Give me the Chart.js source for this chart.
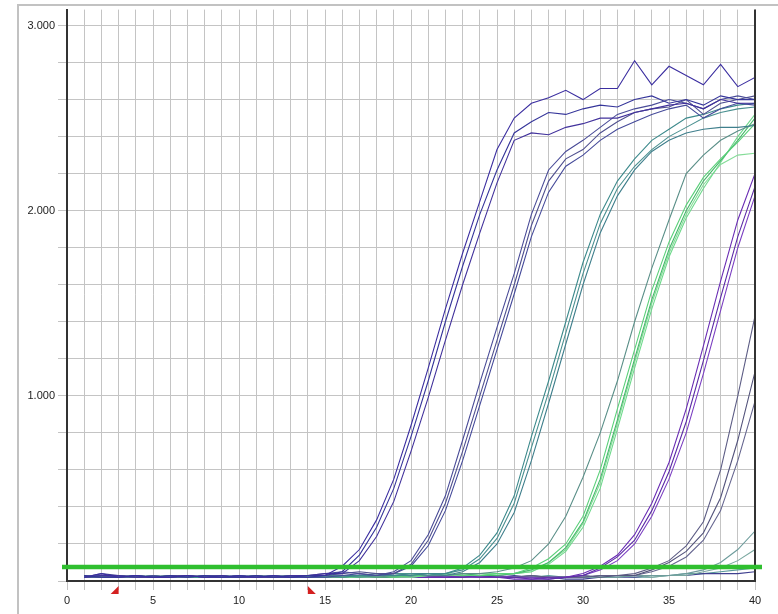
<!DOCTYPE html>
<html>
<head>
<meta charset="utf-8">
<script src="https://cdn.jsdelivr.net/npm/chart.js@4.4.1/dist/chart.umd.min.js"></script>
<style>
  html, body { margin: 0; padding: 0; background: #fff; }
  #wrap { width: 778px; height: 614px; }
</style>
</head>
<body>
<div id="wrap"><canvas id="amp-chart" width="778" height="614"></canvas></div>
<script>
// cycles 1..40
const cycles = [1,2,3,4,5,6,7,8,9,10,11,12,13,14,15,16,17,18,19,20,21,22,23,24,25,26,27,28,29,30,31,32,33,34,35,36,37,38,39,40];

// fluorescence, one array per well
const a1 = [0.02,0.04,0.02,0.03,0.02,0.02,0.03,0.02,0.02,0.03,0.02,0.03,0.02,0.02,0.03, 0.08,0.17,0.33,0.55,0.84, 1.15,1.47,1.77,2.05,2.33, 2.50,2.58,2.61,2.65,2.60, 2.66,2.66,2.81,2.68,2.78, 2.73,2.68,2.79,2.67,2.72];
const a2 = [0.03,0.02,0.02,0.03,0.02,0.03,0.02,0.03,0.02,0.02,0.03,0.02,0.02,0.03,0.03, 0.05,0.14,0.29,0.50,0.78, 1.08,1.40,1.70,1.98,2.22, 2.42,2.48,2.53,2.52,2.55, 2.57,2.56,2.60,2.62,2.58, 2.60,2.57,2.62,2.60,2.60];
const a3 = [0.02,0.03,0.03,0.02,0.02,0.02,0.03,0.02,0.03,0.02,0.02,0.02,0.03,0.03,0.04, 0.04,0.11,0.24,0.43,0.70, 0.99,1.30,1.60,1.88,2.15, 2.38,2.42,2.41,2.45,2.47, 2.50,2.50,2.53,2.55,2.57, 2.58,2.55,2.60,2.58,2.58];

const b1 = [0.02,0.03,0.02,0.02,0.03,0.02,0.02,0.03,0.03,0.02,0.02,0.03,0.02,0.03,0.04,0.05,0.04,0.03, 0.05,0.11, 0.25,0.46,0.76,1.07,1.37, 1.66,1.98,2.22,2.32,2.38, 2.45,2.52,2.55,2.57,2.60, 2.58,2.55,2.60,2.62,2.60];
const b2 = [0.03,0.02,0.02,0.03,0.02,0.03,0.03,0.02,0.02,0.02,0.03,0.02,0.02,0.03,0.03,0.04,0.05,0.04, 0.04,0.09, 0.22,0.42,0.70,1.00,1.30, 1.60,1.92,2.16,2.28,2.33, 2.42,2.48,2.53,2.55,2.56, 2.60,2.52,2.58,2.60,2.62];
const b3 = [0.02,0.02,0.03,0.02,0.02,0.02,0.03,0.02,0.02,0.03,0.02,0.02,0.03,0.02,0.02,0.03,0.04,0.03, 0.04,0.08, 0.19,0.38,0.65,0.95,1.25, 1.55,1.86,2.10,2.24,2.30, 2.38,2.44,2.48,2.52,2.55, 2.57,2.50,2.55,2.58,2.57];

const c1 = [0.02,0.03,0.02,0.02,0.02,0.03,0.02,0.02,0.03,0.02,0.02,0.02,0.03,0.02,0.03,0.02,0.03,0.04,0.03,0.03,0.04, 0.04,0.07,0.14,0.26, 0.46,0.78,1.08,1.40,1.72, 1.98,2.16,2.28,2.38,2.44, 2.50,2.52,2.55,2.57,2.58];
const c2 = [0.03,0.02,0.02,0.03,0.02,0.02,0.02,0.03,0.02,0.02,0.03,0.02,0.02,0.02,0.03,0.03,0.02,0.03,0.04,0.04,0.03, 0.04,0.06,0.12,0.23, 0.42,0.72,1.02,1.34,1.66, 1.93,2.12,2.24,2.33,2.40, 2.45,2.50,2.53,2.55,2.56];
const c3 = [0.02,0.02,0.03,0.02,0.03,0.02,0.02,0.02,0.02,0.03,0.02,0.03,0.02,0.02,0.02,0.03,0.03,0.03,0.03,0.04,0.04, 0.03,0.05,0.10,0.20, 0.37,0.65,0.96,1.28,1.60, 1.88,2.08,2.22,2.32,2.38, 2.42,2.44,2.45,2.45,2.46];

const d0 = [0.02,0.02,0.03,0.02,0.02,0.03,0.02,0.02,0.02,0.03,0.02,0.02,0.03,0.02,0.02,0.02,0.03,0.02,0.03,0.04,0.03,0.03,0.04, 0.04,0.05, 0.07,0.11,0.20,0.35,0.56, 0.80,1.08,1.40,1.69,1.95, 2.20,2.30,2.38,2.43,2.47];
const d1 = [0.02,0.03,0.02,0.02,0.02,0.02,0.03,0.02,0.02,0.02,0.03,0.02,0.02,0.02,0.03,0.02,0.02,0.03,0.02,0.03,0.03,0.04,0.03,0.03,0.04, 0.04,0.07,0.12,0.20,0.35, 0.60,0.93,1.25,1.57,1.83, 2.03,2.18,2.28,2.37,2.47];
const d2 = [0.02,0.02,0.02,0.03,0.02,0.02,0.02,0.02,0.03,0.02,0.02,0.02,0.02,0.03,0.02,0.02,0.03,0.02,0.02,0.03,0.03,0.03,0.04,0.03,0.03, 0.04,0.06,0.10,0.18,0.32, 0.55,0.87,1.20,1.52,1.79, 2.00,2.16,2.27,2.38,2.50];
const d3 = [0.03,0.02,0.02,0.02,0.02,0.03,0.02,0.02,0.02,0.02,0.02,0.03,0.02,0.02,0.02,0.03,0.02,0.02,0.03,0.02,0.03,0.04,0.03,0.03,0.04, 0.04,0.05,0.09,0.16,0.29, 0.50,0.82,1.15,1.47,1.75, 1.96,2.12,2.26,2.40,2.52];
const d4 = [0.02,0.02,0.02,0.02,0.03,0.02,0.02,0.03,0.02,0.02,0.02,0.02,0.03,0.02,0.02,0.02,0.02,0.03,0.02,0.02,0.03,0.03,0.03,0.04,0.04, 0.04,0.05,0.10,0.17,0.31, 0.53,0.85,1.18,1.50,1.77, 1.98,2.14,2.25,2.30,2.31];

const e1 = [0.02,0.02,0.03,0.02,0.02,0.02,0.02,0.03,0.02,0.02,0.02,0.02,0.02,0.03,0.02,0.02,0.02,0.02,0.03,0.02,0.02,0.02,0.03,0.02,0.02,0.01,0.01,0.02,0.02, 0.04, 0.08,0.14,0.25,0.42,0.64, 0.93,1.27,1.62,1.95,2.20];
const e2 = [0.02,0.03,0.02,0.02,0.02,0.02,0.03,0.02,0.02,0.02,0.02,0.03,0.02,0.02,0.02,0.02,0.02,0.03,0.02,0.02,0.02,0.02,0.02,0.03,0.02,0.02,0.01,0.01,0.02, 0.03, 0.07,0.13,0.22,0.38,0.59, 0.86,1.19,1.53,1.86,2.13];
const e3 = [0.02,0.02,0.02,0.03,0.02,0.02,0.02,0.02,0.02,0.03,0.02,0.02,0.02,0.02,0.03,0.02,0.02,0.02,0.02,0.03,0.02,0.02,0.02,0.02,0.03,0.02,0.02,0.01,0.02, 0.03, 0.06,0.11,0.20,0.35,0.55, 0.80,1.12,1.46,1.80,2.08];

const f1 = [0.02,0.02,0.02,0.02,0.03,0.02,0.02,0.02,0.02,0.02,0.03,0.02,0.02,0.02,0.02,0.03,0.02,0.02,0.02,0.02,0.02,0.03,0.02,0.02,0.02,0.02,0.03,0.02,0.02,0.02,0.03,0.03, 0.04,0.07,0.11, 0.19,0.32,0.60,1.00,1.43];
const f2 = [0.02,0.03,0.02,0.02,0.02,0.02,0.02,0.03,0.02,0.02,0.02,0.02,0.03,0.02,0.02,0.02,0.02,0.02,0.03,0.02,0.02,0.02,0.02,0.02,0.03,0.02,0.02,0.02,0.02,0.03,0.02,0.03, 0.03,0.06,0.10, 0.16,0.26,0.45,0.76,1.13];
const f3 = [0.02,0.02,0.03,0.02,0.02,0.02,0.02,0.02,0.02,0.03,0.02,0.02,0.02,0.02,0.02,0.03,0.02,0.02,0.02,0.02,0.03,0.02,0.02,0.02,0.02,0.02,0.03,0.02,0.02,0.02,0.03,0.03, 0.03,0.05,0.08, 0.13,0.22,0.38,0.65,0.97];

const g1 = [0.02,0.02,0.02,0.03,0.02,0.02,0.02,0.02,0.02,0.02,0.03,0.02,0.02,0.02,0.02,0.02,0.03,0.02,0.02,0.02,0.02,0.02,0.02,0.03,0.02,0.02,0.02,0.02,0.02,0.03,0.02,0.02,0.03,0.03,0.03, 0.04,0.06,0.10,0.17,0.27];
const g2 = [0.02,0.02,0.02,0.02,0.02,0.03,0.02,0.02,0.02,0.02,0.02,0.02,0.03,0.02,0.02,0.02,0.02,0.02,0.02,0.03,0.02,0.02,0.02,0.02,0.02,0.02,0.03,0.02,0.02,0.02,0.02,0.02,0.03,0.02,0.03, 0.03,0.05,0.07,0.11,0.17];

const n1 = [0.02,0.04,0.03,0.02,0.02,0.02,0.03,0.02,0.02,0.02,0.02,0.03,0.02,0.02,0.02,0.03,0.02,0.02,0.02,0.02,0.03,0.02,0.02,0.02,0.02,0.03,0.02,0.02,0.01,0.01,0.02,0.02,0.02,0.03,0.03,0.03,0.04,0.04,0.04,0.05];
const n2 = [0.02,0.02,0.02,0.03,0.02,0.02,0.02,0.02,0.03,0.02,0.02,0.02,0.02,0.02,0.03,0.02,0.02,0.02,0.03,0.02,0.02,0.02,0.03,0.03,0.02,0.02,0.02,0.03,0.02,0.02,0.02,0.03,0.02,0.02,0.03,0.04,0.04,0.05,0.06,0.07];

const wells = [a1, a2, a3, b1, b2, b3, c1, c2, c3, d0, d1, d2, d3, d4, e1, e2, e3, f1, f2, f3, g1, g2, n1, n2];
const wellColors = [
    '#3b2ea0', '#35359a', '#42329c',
    '#4a4c98', '#50508f', '#454a9a',
    '#3d8a8c', '#4a9090', '#3f7f8c',
    '#5a8f88', '#5bd07a', '#45b86a', '#6fd98c', '#85dc98',
    '#6a2db4', '#5b2aa6', '#7b3fc2',
    '#5d5d85', '#54547c', '#666690',
    '#6e9c9c', '#7aa8a0',
    '#404090', '#5a9a9a',
];

const threshold = 0.075;
const baselineStart = 3;
const baselineEnd = 14;
const yLabelled = [1, 2, 3];

{
    const ctx = document.getElementById('amp-chart').getContext('2d');
    Chart.defaults.font.family = '"Liberation Sans", Arial, sans-serif';
    Chart.defaults.font.size = 11;
    Chart.defaults.color = '#222';

    const extras = {
        id: 'extras',
        beforeDraw(chart) {
            const c = chart.ctx;
            c.save();
            c.fillStyle = '#fff';
            c.fillRect(0, 0, chart.width, chart.height);
            // 外框
            c.strokeStyle = '#c2c2c2';
            c.lineWidth = 2;
            c.beginPath();
            c.moveTo(18, chart.height);
            c.lineTo(18, 5);
            c.lineTo(chart.width, 5);
            c.stroke();
            c.restore();
        },
        afterDatasetsDraw(chart) {
            const c = chart.ctx;
            const area = chart.chartArea;
            const xs = chart.scales.x;
            const ys = chart.scales.y;
            c.save();
            // right axis
            c.strokeStyle = '#333';
            c.lineWidth = 2;
            c.beginPath();
            c.moveTo(area.right, area.top);
            c.lineTo(area.right, area.bottom);
            c.stroke();
            // threshold
            const ty = ys.getPixelForValue(threshold);
            c.strokeStyle = '#2fbf2f';
            c.lineWidth = 4.5;
            c.beginPath();
            c.moveTo(area.left - 5, ty);
            c.lineTo(area.right + 7, ty);
            c.stroke();
            // baseline markers
            c.fillStyle = '#d42020';
            const y0 = area.bottom + 5;
            const x1 = xs.getPixelForValue(baselineStart);
            c.beginPath();
            c.moveTo(x1, y0);
            c.lineTo(x1, y0 + 8);
            c.lineTo(x1 - 8, y0 + 8);
            c.closePath();
            c.fill();
            const x2 = xs.getPixelForValue(baselineEnd);
            c.beginPath();
            c.moveTo(x2, y0);
            c.lineTo(x2, y0 + 8);
            c.lineTo(x2 + 8, y0 + 8);
            c.closePath();
            c.fill();
            c.restore();
        },
    };

    new Chart(ctx, {
        type: 'line',
        data: {
            datasets: wells.map((w, i) => ({
                data: w.map((v, j) => ({ x: cycles[j], y: v })),
                borderColor: wellColors[i],
                borderWidth: 1.1,
                pointRadius: 0,
                tension: 0,
                fill: false,
            })),
        },
        options: {
            responsive: false,
            animation: false,
            events: [],
            layout: { padding: { top: 7, right: 23, left: 0, bottom: 0 } },
            plugins: {
                legend: { display: false },
                tooltip: { enabled: false },
            },
            scales: {
                x: {
                    type: 'linear',
                    min: 0,
                    max: 40,
                    afterFit: (s) => { s.height = 33; },
                    ticks: {
                        stepSize: 1,
                        autoSkip: false,
                        maxRotation: 0,
                        padding: 4,
                        color: '#222',
                        callback: (v) => (v % 5 === 0 ? String(v) : ''),
                    },
                    grid: { color: '#c4c4c4', lineWidth: 1, tickLength: 9 },
                    border: { color: '#333', width: 2 },
                },
                y: {
                    type: 'linear',
                    min: 0,
                    max: 3.086,
                    afterFit: (s) => { s.width = 67; },
                    afterBuildTicks: (s) => {
                        s.ticks = s.ticks.filter(t => Math.abs(t.value * 5 - Math.round(t.value * 5)) < 1e-6);
                    },
                    ticks: {
                        stepSize: 0.2,
                        autoSkip: false,
                        padding: 3,
                        color: '#222',
                        callback: (v) => (yLabelled.some(l => Math.abs(l - v) < 1e-6) ? v.toFixed(3) : ''),
                    },
                    grid: { color: '#c4c4c4', lineWidth: 1, tickLength: 9 },
                    border: { color: '#333', width: 2 },
                },
            },
        },
        plugins: [extras],
    });
}
</script>
</body>
</html>
